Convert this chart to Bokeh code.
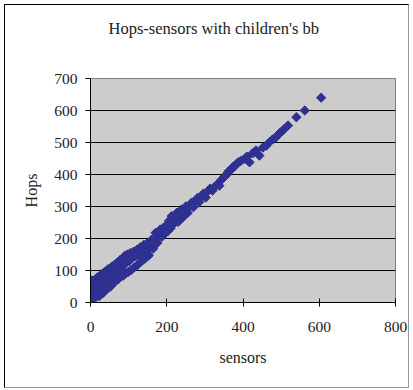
import math
from bokeh.plotting import figure
from bokeh.models import Range1d, FixedTicker, Title
from bokeh.embed import file_html
from bokeh.resources import INLINE

# ---- data ----
sensors = [0, 0, 1, 2, 3, 4, 5, 6, 8, 9, 10, 12, 13, 15, 16, 18, 20, 21, 23, 24,
           26, 28, 29, 31, 33, 34, 36, 38, 40, 42, 44, 46, 48, 50, 52, 54, 56, 57, 60, 62,
           63, 65, 67, 70, 72, 74, 77, 79, 81, 83, 86, 88, 90, 93, 95, 97, 100, 102, 104, 107,
           109, 112, 115, 118, 121, 124, 127, 130, 133, 136, 140, 143, 147, 150, 153, 157, 160, 164, 168, 171,
           175, 179, 183, 187, 190, 194, 198, 202, 206, 210, 213, 218, 222, 226, 230, 234, 238, 242, 246, 250,
           255, 260, 265, 270, 275, 280, 285, 290, 296, 302, 308, 314, 320, 326, 333, 338, 344, 350, 356, 362,
           368, 373, 380, 387, 394, 404, 410, 417, 425, 434, 443, 452, 461, 470, 478, 487, 495, 501, 509, 518,
           540, 562, 605]
hops = [14, 40, 70, 25, 55, 18, 45, 68, 30, 60, 12, 42, 72, 25, 55, 78, 38, 66, 20, 50,
        84, 36, 66, 90, 30, 55, 80, 96, 40, 68, 92, 104, 46, 76, 100, 52, 112, 84, 60, 108,
        118, 70, 96, 124, 72, 104, 132, 80, 110, 136, 84, 118, 146, 92, 126, 150, 96, 130, 154, 102,
        138, 158, 110, 144, 164, 118, 150, 172, 128, 158, 180, 137, 164, 186, 147, 172, 196, 168, 200, 218,
        186, 210, 228, 205, 232, 215, 240, 222, 255, 232, 270, 246, 262, 280, 252, 274, 290, 266, 286, 300,
        280, 300, 312, 298, 318, 326, 314, 332, 340, 328, 348, 356, 350, 362, 370, 365, 384, 392, 398, 410,
        414, 423, 428, 438, 442, 449, 456, 438, 466, 475, 459, 484, 490, 502, 510, 517, 528, 534, 543, 553,
        579, 600, 640]

x_ticks = [0, 200, 400, 600, 800]
y_ticks = [0, 100, 200, 300, 400, 500, 600, 700]
title_text = "Hops-sensors with children's bb"

FONT = "Liberation Serif"

p = figure(width=405, height=384, output_backend="svg", toolbar_location=None,
           x_range=Range1d(0, 800), y_range=Range1d(0, 700),
           min_border_left=85, min_border_right=15, min_border_top=73, min_border_bottom=87,
           background_fill_color="white", border_fill_color="white")
p.styles = {"margin-left": "4px", "margin-top": "4px",
            "border-left": "1px solid #000000", "border-top": "1px solid #000000",
            "border-right": "1px solid #999999", "border-bottom": "1px solid #999999"}

# blank spacer between the plot area and the chart title
p.add_layout(Title(text=" ", text_font=FONT, text_font_size="16px", standoff=17), "above")
p.add_layout(Title(text=title_text, align="left", offset=18, standoff=10,
                   text_font=FONT, text_font_size="16.5px", text_font_style="normal",
                   text_color="#222222"), "above")

p.background_fill_color = "#CCCCCC"
p.outline_line_color = "#808080"
p.outline_line_width = 1

p.xgrid.visible = False
p.ygrid.grid_line_color = "#000000"
p.ygrid.grid_line_width = 1
p.ygrid.ticker = FixedTicker(ticks=y_ticks)

p.xaxis.ticker = FixedTicker(ticks=x_ticks)
p.yaxis.ticker = FixedTicker(ticks=y_ticks)
for ax in (p.xaxis, p.yaxis):
    ax.axis_line_color = "#000000"
    ax.major_tick_line_color = "#000000"
    ax.minor_tick_line_color = None
    ax.major_label_text_font = FONT
    ax.major_label_text_font_size = "15.5px"
    ax.major_label_text_color = "#222222"
    ax.axis_label_text_font = FONT
    ax.axis_label_text_font_size = "16px"
    ax.axis_label_text_font_style = "normal"
    ax.axis_label_text_color = "#222222"

p.xaxis.axis_label = "sensors"
p.xaxis.major_tick_in = 4
p.xaxis.major_tick_out = 4
p.xaxis.major_label_standoff = 15
p.xaxis.axis_label_standoff = 14

p.yaxis.axis_label = "Hops"
p.yaxis.major_tick_in = 0
p.yaxis.major_tick_out = 5
p.yaxis.major_label_standoff = 8
p.yaxis.axis_label_standoff = 11

p.scatter(sensors, hops, marker="square", size=6.6, angle=math.pi / 4,
          fill_color="#2E3192", line_color="#2E3192", line_width=1)

open("out.html", "w").write(file_html(p, INLINE))
